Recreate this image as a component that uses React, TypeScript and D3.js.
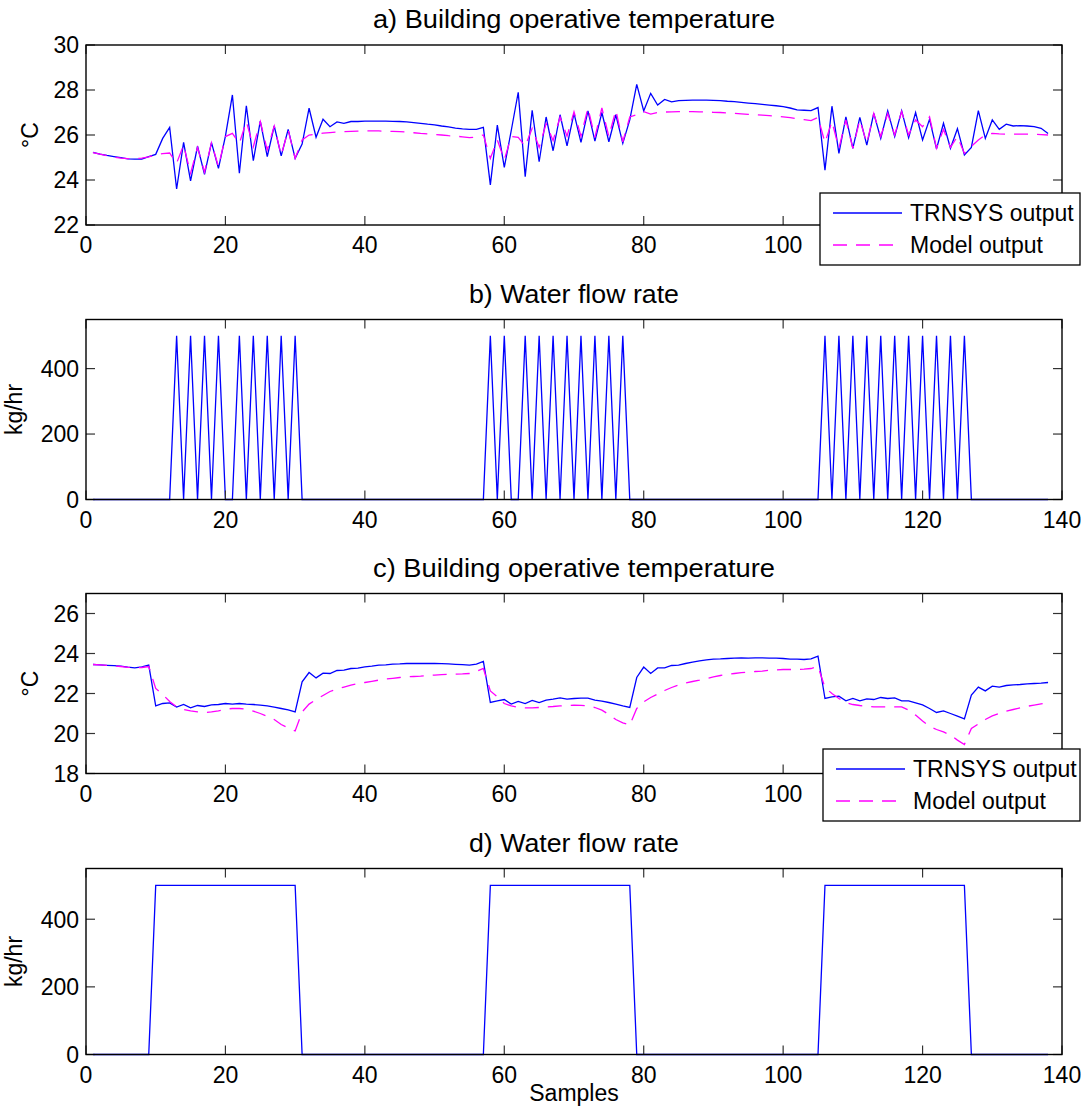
import React from "react";
import * as d3 from "d3";

// ---------- Data (samples 1..138) ----------
const trnsysA = [
  25.23, 25.15, 25.09, 25.04, 24.99, 24.94, 24.93, 24.93, 25.04, 25.14,
  25.85, 26.34, 23.6, 25.67, 23.96, 25.5, 24.25, 25.66, 24.52, 25.95,
  27.78, 24.3, 27.3, 24.86, 26.62, 25.04, 26.4, 25.07, 26.25, 24.96,
  25.6, 27.19, 25.9, 26.7, 26.37, 26.58, 26.52, 26.6, 26.6, 26.62,
  26.62, 26.62, 26.62, 26.61, 26.6, 26.58, 26.55, 26.52, 26.48, 26.45,
  26.4, 26.36, 26.31, 26.27, 26.25, 26.25, 26.34, 23.78, 26.44, 24.56,
  26.2, 27.9, 24.15, 27.1, 24.81, 26.8, 25.3, 26.9, 25.52, 26.96,
  25.67, 27.07, 25.73, 27.0, 25.7, 26.9, 25.63, 26.67, 28.25, 27.07,
  27.85, 27.33, 27.58, 27.47, 27.53, 27.54, 27.55, 27.55, 27.55, 27.54,
  27.53, 27.5, 27.48, 27.45, 27.42, 27.39, 27.36, 27.33, 27.3, 27.26,
  27.2, 27.12, 27.1, 27.08, 27.22, 24.44, 27.28, 25.18, 26.81, 25.41,
  26.78, 25.55, 26.96, 25.85, 27.07, 25.93, 27.08, 25.88, 27.0, 25.78,
  26.7, 25.38, 26.52, 25.41, 26.28, 25.11, 25.45, 27.08, 25.85, 26.67,
  26.25, 26.48, 26.4, 26.42, 26.4, 26.37, 26.3, 26.07,
];

const modelA = [
  25.22, 25.15, 25.08, 25.02, 24.97, 24.95, 24.95, 24.97, 25.03, 25.12,
  25.17, 25.2, 24.75, 25.55, 24.3, 25.45, 24.35, 25.65, 24.6, 25.93,
  26.07, 25.63, 26.6, 25.48, 26.6, 25.33, 26.4, 25.1, 26.22, 24.96,
  25.78, 26.0, 26.04, 26.08, 26.11, 26.13, 26.15, 26.16, 26.17, 26.18,
  26.18, 26.18, 26.17, 26.16, 26.15, 26.13, 26.1, 26.07, 26.05, 26.02,
  26.0, 25.97, 25.95, 25.92, 25.88, 25.9, 26.0, 24.96, 25.78, 24.9,
  25.93, 25.9, 25.5, 26.3, 25.45, 26.5, 25.75, 26.8, 25.95, 27.03,
  25.95, 27.2, 25.9, 27.2, 25.93, 27.1, 25.7, 26.8, 26.9, 27.04,
  26.93, 27.0, 27.02, 27.03, 27.04, 27.04, 27.04, 27.03, 27.02, 27.01,
  27.0, 26.98, 26.96, 26.94, 26.92, 26.9, 26.88, 26.86, 26.84, 26.81,
  26.77, 26.72, 26.68, 26.64, 26.78, 25.66, 26.6, 25.41, 26.67, 25.41,
  26.67, 25.63, 26.96, 25.93, 26.96, 26.0, 27.04, 26.0, 26.67, 26.37,
  26.81, 25.41, 26.25, 25.45, 25.93, 25.18, 25.5, 25.78, 26.0, 26.07,
  26.05, 26.04, 26.04, 26.04, 26.04, 26.03, 26.02, 26.0,
];

const flowB = [
  0, 0, 0, 0, 0, 0, 0, 0, 0, 0, 0, 0, // 1-12
  500, 0, 500, 0, 500, 0, 500, 0, 0, 500, 0, 500, 0, 500, 0, 500, 0, 500, // 13-30
  0, 0, 0, 0, 0, 0, 0, 0, 0, 0, 0, 0, 0, 0, 0, 0, 0, 0, 0, 0, 0, 0, 0, 0, 0, 0, 0, // 31-57
  500, 0, 500, 0, 0, 500, 0, 500, 0, 500, 0, 500, 0, 500, 0, 500, 0, 500, 0, 500, // 58-77
  0, 0, 0, 0, 0, 0, 0, 0, 0, 0, 0, 0, 0, 0, 0, 0, 0, 0, 0, 0, 0, 0, 0, 0, 0, 0, 0, 0, // 78-105
  500, 0, 500, 0, 500, 0, 500, 0, 500, 0, 500, 0, 500, 0, 500, 0, 500, 0, 500, 0, 500, // 106-126
  0, 0, 0, 0, 0, 0, 0, 0, 0, 0, 0, 0, // 127-138
];

const trnsysC = [
  23.45, 23.43, 23.41, 23.39, 23.37, 23.32, 23.28, 23.33, 23.42, 21.38,
  21.5, 21.53, 21.32, 21.45, 21.28, 21.4, 21.35, 21.43, 21.45, 21.5,
  21.47, 21.5, 21.47, 21.45, 21.42, 21.38, 21.32, 21.25, 21.18, 21.08,
  22.58, 23.05, 22.78, 23.02, 23.0, 23.15, 23.17, 23.25, 23.27, 23.33,
  23.37, 23.42, 23.43, 23.47, 23.48, 23.5, 23.5, 23.5, 23.5, 23.5,
  23.49, 23.48, 23.46, 23.44, 23.42, 23.47, 23.6, 21.55, 21.63, 21.7,
  21.47, 21.6, 21.5, 21.65, 21.55, 21.67, 21.72, 21.78, 21.72, 21.75,
  21.77, 21.77, 21.67, 21.62, 21.55, 21.47, 21.38, 21.3, 22.8, 23.32,
  23.0, 23.28, 23.28, 23.4, 23.42, 23.5, 23.57, 23.63, 23.68, 23.72,
  23.73, 23.75, 23.77, 23.78, 23.77, 23.78, 23.78, 23.77, 23.77, 23.75,
  23.72, 23.72, 23.7, 23.73, 23.87, 21.75, 21.83, 21.87, 21.63, 21.75,
  21.63, 21.73, 21.7, 21.8, 21.75, 21.78, 21.63, 21.63, 21.53, 21.43,
  21.25, 21.05, 21.13, 21.0, 20.87, 20.73, 21.92, 22.32, 22.13, 22.37,
  22.32, 22.4, 22.43, 22.45, 22.48, 22.5, 22.52, 22.55,
];

const modelC = [
  23.45, 23.43, 23.41, 23.38, 23.35, 23.31, 23.28, 23.3, 23.35, 22.25,
  21.95, 21.6, 21.33, 21.2, 21.13, 21.08, 21.05, 21.08, 21.13, 21.22,
  21.25, 21.25, 21.22, 21.12, 21.0, 20.85, 20.7, 20.45, 20.28, 20.13,
  21.08, 21.47, 21.7, 21.9, 22.1, 22.22, 22.32, 22.42, 22.49, 22.55,
  22.61, 22.67, 22.72, 22.76, 22.8, 22.83, 22.85, 22.87, 22.9, 22.92,
  22.94, 22.96, 22.97, 22.98, 23.0, 23.1, 23.25, 22.13, 21.83, 21.5,
  21.38, 21.3, 21.28, 21.28, 21.3, 21.33, 21.35, 21.38, 21.4, 21.42,
  21.41, 21.38, 21.3, 21.17, 20.95, 20.7, 20.53, 20.42, 21.25, 21.58,
  21.8, 21.97, 22.15, 22.3, 22.43, 22.52, 22.6, 22.67, 22.75, 22.83,
  22.9, 22.95, 23.0, 23.04, 23.07, 23.1, 23.12, 23.16, 23.18, 23.2,
  23.2, 23.2, 23.22, 23.25, 23.35, 22.3, 22.0, 21.75, 21.55, 21.45,
  21.4, 21.36, 21.33, 21.33, 21.33, 21.33, 21.33, 21.17, 20.92, 20.62,
  20.35, 20.2, 20.08, 19.92, 19.67, 19.45, 20.25, 20.48, 20.7, 20.88,
  21.0, 21.12, 21.2, 21.28, 21.36, 21.42, 21.48, 21.53,
];

const flowD = [
  0, 0, 0, 0, 0, 0, 0, 0, 0, // 1-9
  500, 500, 500, 500, 500, 500, 500, 500, 500, 500, 500, 500, 500, 500, 500, 500, 500, 500, 500, 500, 500, // 10-30
  0, 0, 0, 0, 0, 0, 0, 0, 0, 0, 0, 0, 0, 0, 0, 0, 0, 0, 0, 0, 0, 0, 0, 0, 0, 0, 0, // 31-57
  500, 500, 500, 500, 500, 500, 500, 500, 500, 500, 500, 500, 500, 500, 500, 500, 500, 500, 500, 500, 500, // 58-78
  0, 0, 0, 0, 0, 0, 0, 0, 0, 0, 0, 0, 0, 0, 0, 0, 0, 0, 0, 0, 0, 0, 0, 0, 0, 0, 0, // 79-105
  500, 500, 500, 500, 500, 500, 500, 500, 500, 500, 500, 500, 500, 500, 500, 500, 500, 500, 500, 500, 500, // 106-126
  0, 0, 0, 0, 0, 0, 0, 0, 0, 0, 0, 0, // 127-138
];

const xTicks = [0, 20, 40, 60, 80, 100, 120, 140];
const tempTicksA = [22, 24, 26, 28, 30];
const tempTicksC = [18, 20, 22, 24, 26];
const flowTicks = [0, 200, 400];

const titles = [
  "a) Building operative temperature",
  "b) Water flow rate",
  "c) Building operative temperature",
  "d) Water flow rate",
];
const legendLabels = ["TRNSYS output", "Model output"];

// ---------- Layout ----------
const W = 1081;
const H = 1106;
const X0 = 86;
const X1 = 1062;
const FONT = "'Liberation Sans', Arial, Helvetica, sans-serif";
const BLUE = "#0000ff";
const MAGENTA = "#ff00ff";

const x = d3.scaleLinear().domain([0, 140]).range([X0, X1]);

type LegendBox = { x: number; y: number; w: number; h: number };
type PanelProps = {
  top: number;
  bottom: number;
  yDomain: [number, number];
  yTicks: number[];
  title: string;
  titleWidth: number;
  ylabel: string;
  ylabelX: number;
  series: { values: number[]; color: string; dash?: string }[];
  legend?: LegendBox;
};

function Panel({ top, bottom, yDomain, yTicks, title, titleWidth, ylabel, ylabelX, series, legend }: PanelProps) {
  const y = d3.scaleLinear().domain(yDomain).range([bottom, top]);
  const line = d3
    .line<number>()
    .x((_, i) => x(i + 1))
    .y((d) => y(d));
  const tick = 9;
  const midY = (top + bottom) / 2;
  // tick labels that the legend box hides in the reference are not drawn
  const labelHidden = (t: number) => !!legend && x(t) - 20 > legend.x && bottom + 28 > legend.y;
  return (
    <g>
      <text
        x={(X0 + X1) / 2}
        y={top - 17}
        textAnchor="middle"
        fontSize={25}
        fontFamily={FONT}
        fill="#000"
        textLength={titleWidth}
        lengthAdjust="spacingAndGlyphs"
      >
        {title}
      </text>
      <text
        transform={`translate(${ylabelX},${midY}) rotate(-90)`}
        textAnchor="middle"
        fontSize={23}
        fontFamily={FONT}
        fill="#000"
      >
        {ylabel}
      </text>
      {series.map((s, k) => (
        <path
          key={k}
          d={line(s.values) || ""}
          fill="none"
          stroke={s.color}
          strokeWidth={1.3}
          strokeDasharray={s.dash}
        />
      ))}
      {xTicks.map((t) => (
        <g key={"x" + t}>
          <line x1={x(t)} x2={x(t)} y1={bottom} y2={bottom - tick} stroke="#333" strokeWidth={1.2} />
          <line x1={x(t)} x2={x(t)} y1={top} y2={top + tick} stroke="#333" strokeWidth={1.2} />
          {!labelHidden(t) && (
            <text x={x(t)} y={bottom + 28} textAnchor="middle" fontSize={23} fontFamily={FONT} fill="#000">
              {t}
            </text>
          )}
        </g>
      ))}
      {yTicks.map((t) => (
        <g key={"y" + t}>
          <line x1={X0} x2={X0 + tick} y1={y(t)} y2={y(t)} stroke="#333" strokeWidth={1.2} />
          <line x1={X1} x2={X1 - tick} y1={y(t)} y2={y(t)} stroke="#333" strokeWidth={1.2} />
          <text x={X0 - 7} y={y(t)} dy="0.36em" textAnchor="end" fontSize={23} fontFamily={FONT} fill="#000">
            {t}
          </text>
        </g>
      ))}
      <rect x={X0} y={top} width={X1 - X0} height={bottom - top} fill="none" stroke="#000" strokeWidth={1.4} />
      {legend && (
        <g>
          <rect x={legend.x} y={legend.y} width={legend.w} height={legend.h} fill="#fff" stroke="#000" strokeWidth={1.3} />
          {series.map((s, k) => {
            const ly = legend.y + 20 + k * 32;
            return (
              <g key={"l" + k}>
                <line x1={legend.x + 13} x2={legend.x + 82} y1={ly} y2={ly} stroke={s.color} strokeWidth={1.3} strokeDasharray={s.dash} />
                <text x={legend.x + 90} y={ly} dy="0.36em" fontSize={23} fontFamily={FONT} fill="#000">
                  {legendLabels[k]}
                </text>
              </g>
            );
          })}
        </g>
      )}
    </g>
  );
}

export default function App() {
  return (
    <svg width={W} height={H} style={{ position: "absolute", left: 0, top: 0, background: "#fff" }}>
      <rect x={0} y={0} width={W} height={H} fill="#fff" />
      <Panel
        top={45}
        bottom={225}
        yDomain={[22, 30]}
        yTicks={tempTicksA}
        title={titles[0]}
        titleWidth={402}
        ylabel="°C"
        ylabelX={38}
        series={[
          { values: trnsysA, color: BLUE },
          { values: modelA, color: MAGENTA, dash: "14,9" },
        ]}
        legend={{ x: 820, y: 193, w: 260, h: 72 }}
      />
      <Panel
        top={319.5}
        bottom={499.5}
        yDomain={[0, 550]}
        yTicks={flowTicks}
        title={titles[1]}
        titleWidth={210}
        ylabel="kg/hr"
        ylabelX={22}
        series={[{ values: flowB, color: BLUE }]}
      />
      <Panel
        top={593.5}
        bottom={773.5}
        yDomain={[18, 27]}
        yTicks={tempTicksC}
        title={titles[2]}
        titleWidth={402}
        ylabel="°C"
        ylabelX={38}
        series={[
          { values: trnsysC, color: BLUE },
          { values: modelC, color: MAGENTA, dash: "14,9" },
        ]}
        legend={{ x: 823, y: 749, w: 257, h: 72 }}
      />
      <Panel
        top={868.5}
        bottom={1054.5}
        yDomain={[0, 550]}
        yTicks={flowTicks}
        title={titles[3]}
        titleWidth={210}
        ylabel="kg/hr"
        ylabelX={22}
        series={[{ values: flowD, color: BLUE }]}
      />
      <text x={(X0 + X1) / 2} y={1101} textAnchor="middle" fontSize={23} fontFamily={FONT} fill="#000">
        Samples
      </text>
    </svg>
  );
}
